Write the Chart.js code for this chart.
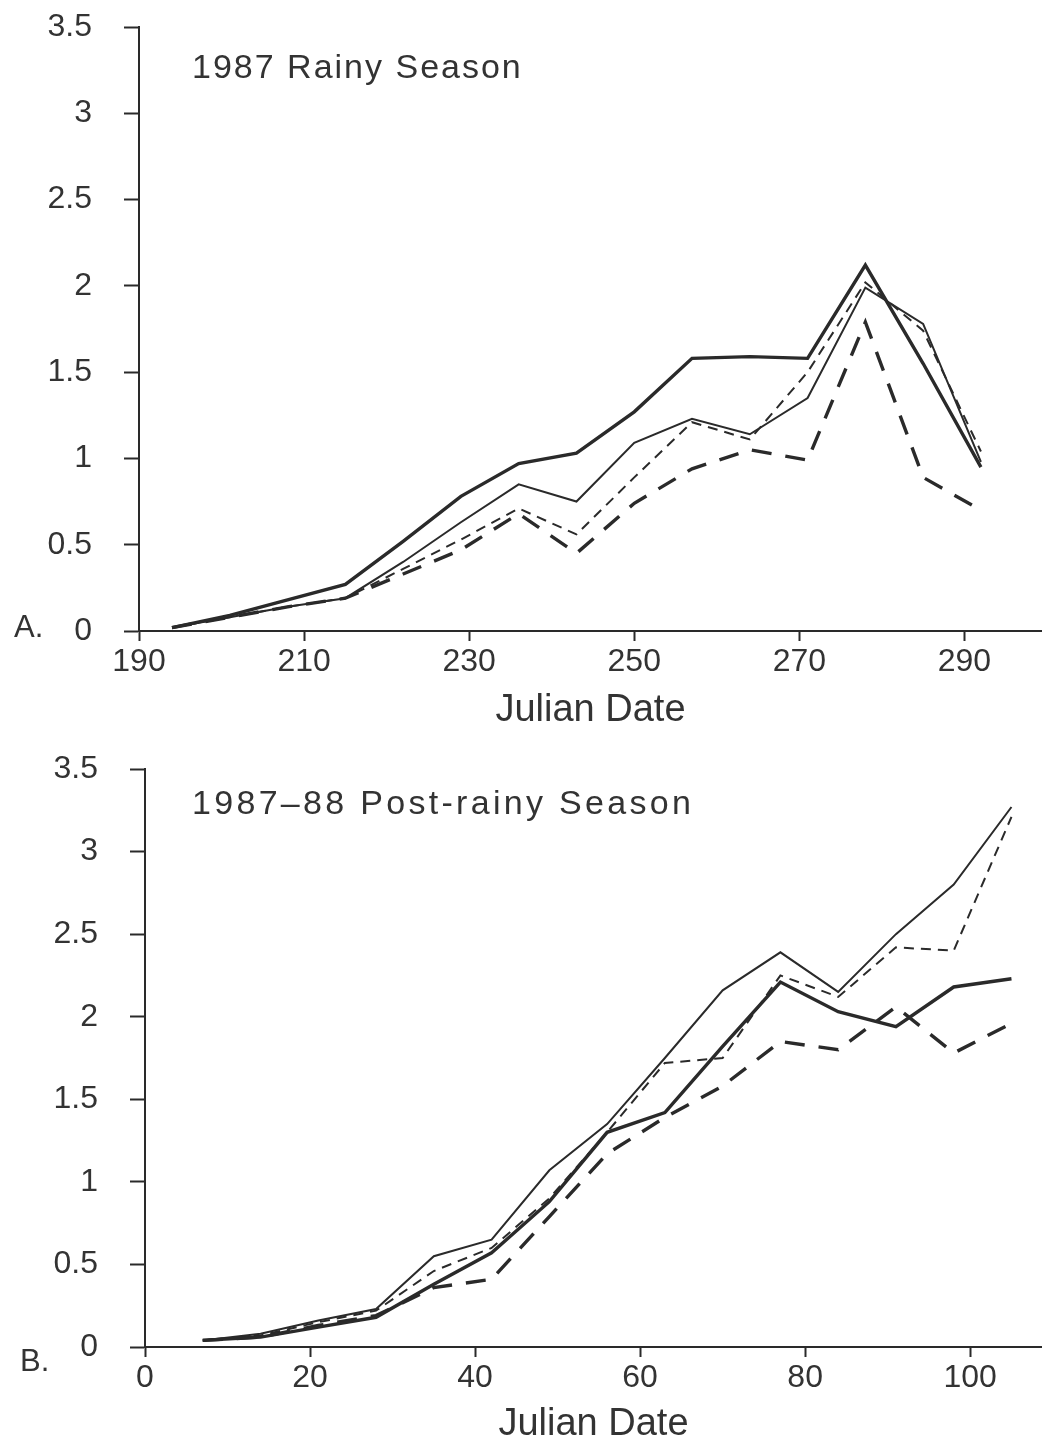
<!DOCTYPE html>
<html>
<head>
<meta charset="utf-8">
<script src="https://cdn.jsdelivr.net/npm/chart.js@4.4.1/dist/chart.umd.min.js"></script>
<style>
  html, body { margin: 0; padding: 0; background: #fff; }
  #wrap { position: relative; width: 1042px; height: 1444px; }
  canvas { position: absolute; left: 0; }
  #chartA { top: 0; }
  #chartB { top: 740px; }
</style>
</head>
<body>
<div id="wrap">
  <canvas id="chartA" width="1042" height="740"></canvas>
  <canvas id="chartB" width="1042" height="704"></canvas>
</div>
<script>
// ---- Panel A: 1987 rainy season ----
const datesA = [194, 201, 208, 215, 222, 229, 236, 243, 250, 257, 264, 271, 278, 285, 292];
const thickSolidA  = [0.02, 0.09, 0.18, 0.27, 0.52, 0.78, 0.97, 1.03, 1.27, 1.58, 1.59, 1.58, 2.12, 1.55, 0.95];
const thinSolidA   = [0.02, 0.08, 0.14, 0.19, 0.40, 0.63, 0.85, 0.75, 1.09, 1.23, 1.14, 1.35, 1.99, 1.78, 0.98];
const thinDashA    = [0.02, 0.08, 0.14, 0.19, 0.36, 0.53, 0.71, 0.56, 0.89, 1.21, 1.11, 1.50, 2.02, 1.74, 1.04];
const thickDashA   = [0.02, 0.08, 0.14, 0.19, 0.33, 0.47, 0.68, 0.45, 0.74, 0.94, 1.05, 0.99, 1.79, 0.89, 0.70];
const xTicksA = [190, 210, 230, 250, 270, 290];

// ---- Panel B: 1987-88 post-rainy season ----
const datesB = [7, 14, 21, 28, 35, 42, 49, 56, 63, 70, 77, 84, 91, 98, 105];
const thickSolidB  = [0.04, 0.06, 0.12, 0.18, 0.38, 0.57, 0.88, 1.30, 1.42, 1.82, 2.21, 2.03, 1.94, 2.18, 2.23];
const thinSolidB   = [0.04, 0.08, 0.16, 0.23, 0.55, 0.65, 1.07, 1.35, 1.75, 2.16, 2.39, 2.15, 2.50, 2.80, 3.27];
const thinDashB    = [0.04, 0.07, 0.15, 0.22, 0.46, 0.60, 0.90, 1.30, 1.72, 1.75, 2.25, 2.12, 2.42, 2.40, 3.21];
const thickDashB   = [0.04, 0.06, 0.13, 0.19, 0.36, 0.41, 0.79, 1.17, 1.39, 1.58, 1.85, 1.80, 2.06, 1.78, 1.96];
const xTicksB = [0, 20, 40, 60, 80, 100];

const yTicks = [0, 0.5, 1, 1.5, 2, 2.5, 3, 3.5];

const INK = '#2a2a2a';
const FONT = '"Liberation Sans", Arial, sans-serif';

// line styles for the four series
const styles = [
    { label: 'thick solid', width: 3.4, dash: [] },
    { label: 'thin solid',  width: 2, dash: [] },
    { label: 'thin dashed', width: 2, dash: [10, 7] },
    { label: 'thick dashed', width: 3.4, dash: [20, 14] }
];

function makeDatasets(dates, seriesList) {
    return seriesList.map((vals, i) => ({
        label: styles[i].label,
        data: dates.map((d, j) => ({ x: d, y: vals[j] })),
        borderColor: INK,
        borderWidth: styles[i].width,
        borderDash: styles[i].dash,
        pointRadius: 0,
        tension: 0,
        fill: false
    }));
}

// season title inside the plot and the panel letter beside the origin
const panelText = {
    id: 'panelText',
    afterDraw(chart, args, opts) {
        const ctx = chart.ctx;
        const area = chart.chartArea;
        ctx.save();
        ctx.fillStyle = '#333';
        ctx.textBaseline = 'middle';
        ctx.textAlign = 'left';
        ctx.letterSpacing = opts.spacing;
        ctx.font = '34px ' + FONT;
        ctx.fillText(opts.title, area.left + opts.titleDx, area.top + opts.titleDy);
        ctx.letterSpacing = '0px';
        ctx.font = '31px ' + FONT;
        ctx.fillText(opts.panel, opts.panelX, area.bottom + opts.panelDy);
        ctx.restore();
    }
};

function makeChart(canvasId, cfg) {
    const canvas = document.getElementById(canvasId);
    const ctx = canvas.getContext('2d');
    return new Chart(ctx, {
        type: 'line',
        data: { datasets: makeDatasets(cfg.dates, cfg.series) },
        plugins: [panelText],
        options: {
            responsive: false,
            animation: false,
            layout: { padding: { top: cfg.padTop, left: 0, right: 0, bottom: 0 } },
            plugins: {
                legend: { display: false },
                tooltip: { enabled: false },
                panelText: cfg.text
            },
            scales: {
                x: {
                    type: 'linear',
                    min: cfg.xMin,
                    max: cfg.xMax,
                    afterBuildTicks: axis => {
                        axis.ticks = cfg.xTicks.map(v => ({ value: v }));
                    },
                    afterFit: scale => {
                        scale.height = cfg.xHeight;
                        scale.paddingLeft = 0;
                        scale.paddingRight = 0;
                    },
                    grid: {
                        drawOnChartArea: false,
                        drawTicks: true,
                        tickLength: 10,
                        tickWidth: 2,
                        tickColor: INK
                    },
                    border: { display: true, color: INK, width: 2 },
                    ticks: {
                        color: '#333',
                        padding: 2,
                        maxRotation: 0,
                        font: { family: FONT, size: 32 },
                        callback: v => String(v)
                    },
                    title: {
                        display: true,
                        text: 'Julian Date',
                        color: '#333',
                        font: { family: FONT, size: 38, lineHeight: 1 },
                        padding: { top: 0, bottom: cfg.titlePad }
                    }
                },
                y: {
                    min: 0,
                    max: 3.5,
                    afterBuildTicks: axis => {
                        axis.ticks = yTicks.map(v => ({ value: v }));
                    },
                    afterFit: scale => {
                        scale.width = cfg.yWidth;
                        // keep the top label from pushing the plot area down
                        scale.paddingTop = 0;
                        scale.paddingBottom = 0;
                    },
                    grid: {
                        drawOnChartArea: false,
                        drawTicks: true,
                        tickLength: 15,
                        tickWidth: 2,
                        tickColor: INK
                    },
                    border: { display: true, color: INK, width: 2 },
                    ticks: {
                        color: '#333',
                        padding: 32,
                        font: { family: FONT, size: 32 },
                        callback: v => String(v)
                    }
                }
            }
        }
    });
}

makeChart('chartA', {
    dates: datesA,
    series: [thickSolidA, thinSolidA, thinDashA, thickDashA],
    xMin: 190, xMax: 299.4, xTicks: xTicksA,
    padTop: 27, xHeight: 109, yWidth: 139, titlePad: 10,
    text: { title: '1987 Rainy Season', spacing: '2px', titleDx: 53, titleDy: 42, panel: 'A.', panelX: 14, panelDy: -3 }
});

makeChart('chartB', {
    dates: datesB,
    series: [thickSolidB, thinSolidB, thinDashB, thickDashB],
    xMin: 0, xMax: 108.7, xTicks: xTicksB,
    padTop: 29, xHeight: 97, yWidth: 145, titlePad: 0,
    text: { title: '1987–88 Post-rainy Season', spacing: '3.3px', titleDx: 47, titleDy: 36, panel: 'B.', panelX: 20, panelDy: 15 }
});
</script>
</body>
</html>
